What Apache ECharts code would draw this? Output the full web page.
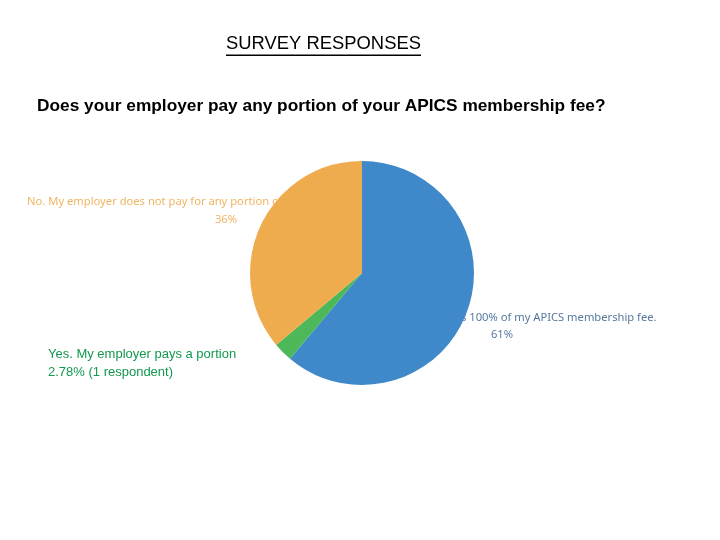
<!DOCTYPE html>
<html>
<head>
<meta charset="utf-8">
<script src="https://cdn.jsdelivr.net/npm/echarts@6/dist/echarts.min.js"></script>
<style>html,body{margin:0;padding:0;background:#fff}#c{width:720px;height:540px}</style>
</head>
<body>
<div id="c"></div>
<script>
const titleText = 'SURVEY RESPONSES';
const questionText = 'Does your employer pay any portion of your APICS membership fee?';
const categories = [
  'Yes. My employer pays 100% of my APICS membership fee.',
  'Yes. My employer pays a portion',
  'No. My employer does not pay for any portion of my APICS membership fee'
];
const respondents = [22, 1, 13];
const percentLabels = ['61%', '2.78% (1 respondent)', '36%'];
const colors = ['#3f89ca', '#4db85a', '#eeac4e'];

const chart = echarts.init(document.getElementById('c'));
chart.setOption({
  animation: false,
  backgroundColor: '#fff',
  graphic: [
    { type: 'text', z: 0, style: { x: 323.5, y: 44, text: titleText, textAlign: 'center', textVerticalAlign: 'middle',
      font: '18.4px "Liberation Sans"', fill: '#000' } },
    { type: 'rect', z: 0, shape: { x: 226, y: 54.5, width: 195, height: 1.5 }, style: { fill: '#000' } },
    { type: 'text', z: 0, style: { x: 37, y: 106, text: questionText, textAlign: 'left', textVerticalAlign: 'middle',
      font: 'bold 17.3px "Liberation Sans"', fill: '#000' } },
    { type: 'text', z: 0, style: { x: 226, y: 211, text: categories[2] + '\n' + percentLabels[2], textAlign: 'center', textVerticalAlign: 'middle',
      font: '11.2px "Noto Sans"', lineHeight: 18, fill: '#f0b462' } },
    { type: 'text', z: 0, style: { x: 502, y: 326, text: categories[0] + '\n' + percentLabels[0], textAlign: 'center', textVerticalAlign: 'middle',
      font: '11.2px "Noto Sans"', lineHeight: 17, fill: '#56789e' } },
    { type: 'text', z: 10, style: { x: 48, y: 363, text: categories[1] + '\n' + percentLabels[1], textAlign: 'left', textVerticalAlign: 'middle',
      font: '13px "Liberation Sans"', lineHeight: 18, fill: '#12984f' } }
  ],
  series: [{
    type: 'pie',
    z: 2,
    center: [362, 273],
    radius: 112,
    startAngle: 90,
    clockwise: true,
    label: { show: false },
    labelLine: { show: false },
    itemStyle: { borderWidth: 0 },
    emphasis: { disabled: true },
    data: categories.map((c, i) => ({ name: c, value: respondents[i], itemStyle: { color: colors[i] } }))
  }]
});
</script>
</body>
</html>
